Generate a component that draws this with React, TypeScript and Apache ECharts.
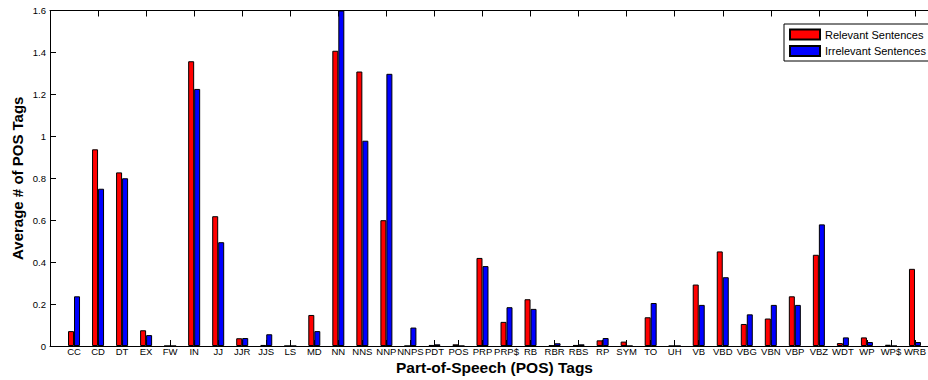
import React, { useEffect, useRef } from "react";
import * as echarts from "echarts";

const categories = [
  "CC", "CD", "DT", "EX", "FW", "IN", "JJ", "JJR", "JJS", "LS", "MD", "NN",
  "NNS", "NNP", "NNPS", "PDT", "POS", "PRP", "PRP$", "RB", "RBR", "RBS", "RP", "SYM",
  "TO", "UH", "VB", "VBD", "VBG", "VBN", "VBP", "VBZ", "WDT", "WP", "WP$", "WRB",
];

const relevant = [
  0.071, 0.938, 0.828, 0.075, 0, 1.358, 0.619, 0.037, 0.005, 0, 0.148, 1.408,
  1.309, 0.6, 0, 0.005, 0.008, 0.42, 0.115, 0.223, 0.003, 0.005, 0.027, 0.021,
  0.137, 0, 0.293, 0.451, 0.105, 0.131, 0.237, 0.435, 0.014, 0.041, 0.006, 0.368,
];

const irrelevant = [
  0.237, 0.75, 0.8, 0.052, 0, 1.226, 0.495, 0.038, 0.056, 0, 0.071, 1.6,
  0.979, 1.298, 0.088, 0.008, 0, 0.381, 0.185, 0.177, 0.013, 0.008, 0.038, 0,
  0.205, 0, 0.196, 0.328, 0.151, 0.196, 0.196, 0.58, 0.041, 0.019, 0, 0.019,
];

const yTicks = { min: 0, max: 1.6, interval: 0.2 };

const FONT = "Liberation Sans, Arial, Helvetica, sans-serif";

export default function App() {
  const ref = useRef<HTMLDivElement>(null);

  useEffect(() => {
    if (!ref.current) return;
    const chart = echarts.init(ref.current, null, { renderer: "svg" });
    const padded = ["", ...categories, ""];
    const pad = (arr: number[]) => [null, ...arr, null];
    const xCommon = {
      type: "category" as const,
      data: padded,
      boundaryGap: false,
      axisLine: { show: true, lineStyle: { color: "#000", width: 1 } },
      axisTick: { show: true, inside: true, length: 6, lineStyle: { color: "#000" } },
      splitLine: { show: false },
    };
    chart.setOption({
      animation: false,
      backgroundColor: "#fff",
      textStyle: { fontFamily: FONT },
      grid: { left: 50, top: 10.5, bottom: 34, right: -11, outerBoundsMode: "none", containLabel: false },
      legend: {
        orient: "vertical",
        left: 784,
        top: 24,
        padding: [4.5, 6, 4, 5],
        itemWidth: 30,
        itemHeight: 10,
        itemGap: 4.5,
        icon: "rect",
        backgroundColor: "#fff",
        borderColor: "#000",
        borderWidth: 1,
        textStyle: { fontFamily: FONT, fontSize: 11, color: "#000" },
        data: ["Relevant Sentences", "Irrelevant Sentences"],
      },
      xAxis: [
        {
          ...xCommon,
          position: "bottom",
          name: "Part-of-Speech (POS) Tags",
          nameLocation: "middle",
          nameGap: 14,
          nameMoveOverlap: false,
          nameTextStyle: {
            fontFamily: FONT,
            fontSize: 15.5,
            lineHeight: 14,
            fontWeight: "bold",
            color: "#000",
          },
          axisLabel: {
            interval: 0,
            fontSize: 9.5,
            lineHeight: 9,
            color: "#000",
            margin: 1,
            fontFamily: FONT,
          },
        },
        {
          ...xCommon,
          position: "top",
          axisLabel: { show: false },
        },
      ],
      yAxis: {
        type: "value",
        min: yTicks.min,
        max: yTicks.max,
        interval: yTicks.interval,
        name: "Average # of POS Tags",
        nameLocation: "middle",
        nameGap: 25,
        nameMoveOverlap: false,
        nameTextStyle: { fontFamily: FONT, fontSize: 15, fontWeight: "bold", color: "#000" },
        axisLine: { show: true, lineStyle: { color: "#000", width: 1 } },
        axisTick: { show: true, inside: true, length: 6, lineStyle: { color: "#000" } },
        axisLabel: { fontSize: 9.5, color: "#000", margin: 4, fontFamily: FONT },
        splitLine: { show: false },
      },
      series: [
        {
          name: "Relevant Sentences",
          type: "bar",
          xAxisIndex: 0,
          data: pad(relevant),
          barWidth: 6,
          barGap: "0%",
          itemStyle: { color: "#ff0000", borderColor: "#000", borderWidth: 1 },
        },
        {
          name: "Irrelevant Sentences",
          type: "bar",
          xAxisIndex: 0,
          data: pad(irrelevant),
          barWidth: 6,
          barGap: "0%",
          itemStyle: { color: "#0000ff", borderColor: "#000", borderWidth: 1 },
        },
      ],
    });
    return () => chart.dispose();
  }, []);

  return (
    <div
      ref={ref}
      style={{ position: "fixed", left: 0, top: 0, width: 928, height: 380, background: "#fff" }}
    />
  );
}
